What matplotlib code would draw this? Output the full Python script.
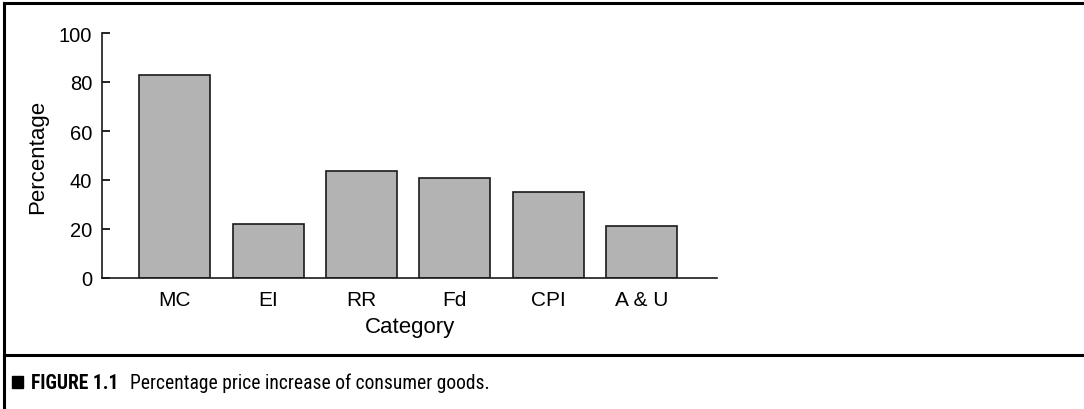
import matplotlib
matplotlib.use('Agg')
import matplotlib.pyplot as plt
from matplotlib import font_manager
from matplotlib.lines import Line2D
from matplotlib.patches import Rectangle

# Chart data
categories = ['MC', 'EI', 'RR', 'Fd', 'CPI', 'A & U']
percentages = [83.0, 22.0, 43.5, 40.7, 35.2, 21.3]
y_ticks = [0, 20, 40, 60, 80, 100]
caption_tag = 'FIGURE 1.1'
caption_text = 'Percentage price increase of consumer goods.'

W, H = 1084, 410
plt.rcParams['font.family'] = ['Liberation Sans', 'DejaVu Sans']

# Look for a condensed face for the caption, else use a plain one
names = {f.name for f in font_manager.fontManager.ttflist}
narrow = 'Liberation Sans'
for cand in ['Liberation Sans Narrow', 'Roboto Condensed', 'Open Sans Condensed',
             'DejaVu Sans Condensed']:
    if cand in names:
        narrow = cand
        break

fig = plt.figure(figsize=(W / 100, H / 100), dpi=100)

# Axes placed in pixel terms: x 102..717, y 34..279 (from top)
ax = fig.add_axes([102 / W, (H - 279) / H, (717 - 102) / W, (279 - 34) / H])
ax.bar(range(len(categories)), percentages, width=0.76,
       color='#b3b3b3', edgecolor='#1a1a1a', linewidth=1.2)

ax.set_xlim(-0.78, 5.81)
ax.set_ylim(0, 100)
ax.set_yticks(y_ticks)
ax.set_xticks(range(len(categories)))
ax.set_xticklabels(categories)

for side in ['top', 'right']:
    ax.spines[side].set_visible(False)
for side in ['left', 'bottom']:
    ax.spines[side].set_linewidth(1.2)
    ax.spines[side].set_color('#1a1a1a')

ax.tick_params(axis='y', direction='in', length=6, width=1.2, pad=7, labelsize=14.5)
ax.tick_params(axis='x', length=0, pad=9, labelsize=15)
ax.set_xlabel('Category', fontsize=16, labelpad=5)
ax.set_ylabel('Percentage', fontsize=16, labelpad=8)

# Frame lines around the figure and above the caption
lw = 2.2
bx, by = 4, 4
fig.add_artist(Line2D([bx / W, bx / W], [0, 1 - by / H], transform=fig.transFigure,
                      color='black', linewidth=lw, solid_capstyle='projecting'))
fig.add_artist(Line2D([bx / W, 1], [1 - by / H, 1 - by / H], transform=fig.transFigure,
                      color='black', linewidth=lw, solid_capstyle='projecting'))
fig.add_artist(Line2D([bx / W, 1], [1 - 356 / H, 1 - 356 / H], transform=fig.transFigure,
                      color='black', linewidth=lw, solid_capstyle='projecting'))

# Caption: square, bold tag, then the text, all at one size
fig.add_artist(Rectangle((12 / W, 1 - 389 / H), 11 / W, 12 / H,
                         transform=fig.transFigure, color='black'))
base = 1 - 389 / H
tag = fig.text(31 / W, base, caption_tag, family=narrow, fontweight='bold',
               fontsize=14, va='baseline', ha='left')
txt = fig.text(0, base, caption_text, family=narrow, fontsize=14,
               va='baseline', ha='left')

renderer = fig.canvas.get_renderer()
gap = 12
span = 492 - 31 - gap
w_tag = tag.get_window_extent(renderer).width
w_txt = txt.get_window_extent(renderer).width
size = 14 * span / (w_tag + w_txt)
tag.set_fontsize(size)
txt.set_fontsize(size)
w_tag = tag.get_window_extent(renderer).width
txt.set_x((31 + w_tag + gap) / W)

fig.savefig('out.png', dpi=100)
